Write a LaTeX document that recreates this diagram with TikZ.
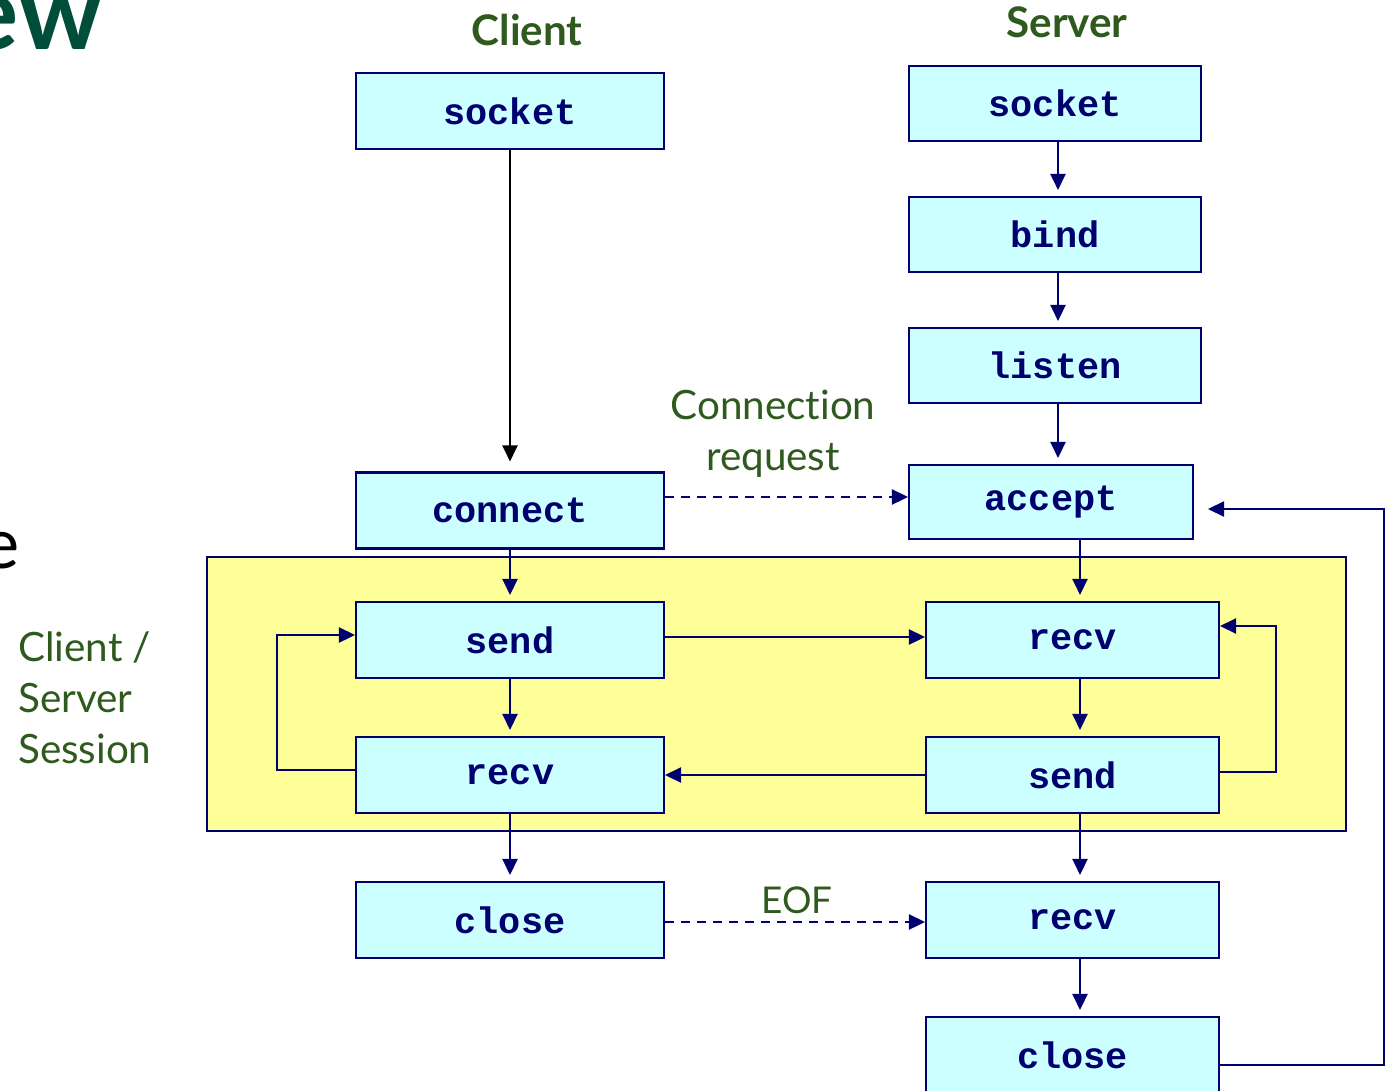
\documentclass[tikz,border=0pt]{standalone}
\usepackage{fontspec}
\setmainfont{Lato}[Ligatures=NoCommon]
\newfontfamily\boxfont{Liberation Mono}
\usetikzlibrary{arrows.meta}
\definecolor{navy}{RGB}{0,0,110}
\definecolor{boxcyan}{RGB}{204,255,255}
\definecolor{sessionyellow}{RGB}{255,255,153}
\definecolor{labelgreen}{RGB}{47,90,30}
\definecolor{titlegreen}{RGB}{0,77,58}

\begin{document}
\begin{tikzpicture}[x=0.02cm, y=-0.02cm,
    call/.style={draw=navy, fill=boxcyan, line width=1.2pt, inner sep=0pt,
      minimum width=6.16cm, minimum height=1.52cm, text=navy,
      font=\boxfont\bfseries\fontsize{21}{24}\selectfont},
    flow/.style={navy, line width=1.4pt, shorten >=0.12cm,
      -{Triangle[length=0.32cm,width=0.3cm]}},
    ask/.style={flow, dash pattern=on 0.18cm off 0.14cm},
    note/.style={text=labelgreen, font=\fontsize{23}{29}\selectfont}]
    \useasboundingbox (0,0) rectangle (1393,1091);

    % slide text cut off at the edges
    \node[anchor=base east, inner sep=0, text=titlegreen,
      font=\bfseries\fontsize{60}{70}\selectfont] (heading) at (103,50) {ew};
    \node[anchor=base east, inner sep=0, font=\fontsize{40}{48}\selectfont] (bullet) at (20,568) {e};

    % session area
    \draw[navy, line width=1.2pt, fill=sessionyellow] (207,557) rectangle (1346,831);

    \node[text=labelgreen, font=\bfseries\fontsize{24}{28}\selectfont] (clienttitle) at (527,30) {Client};
    \node[text=labelgreen, font=\bfseries\fontsize{24}{28}\selectfont] (servertitle) at (1067,22) {Server};

    % client side
    \node[call] (csocket) at (510,111) {socket};
    \node[call] (cconnect) at (510,510.5) {connect};
    \node[call] (csend) at (510,640) {send};
    \node[call] (crecv) at (510,775) {recv};
    \node[call] (cclose) at (510,920) {close};

    % server side
    \node[call, minimum width=5.84cm, minimum height=1.5cm] (ssocket) at (1055,103.5) {socket};
    \node[call, minimum width=5.84cm, minimum height=1.5cm] (sbind) at (1055,234.5) {bind};
    \node[call, minimum width=5.84cm, minimum height=1.5cm] (slisten) at (1055,365.5) {listen};
    \node[call, minimum width=5.68cm, minimum height=1.48cm] (saccept) at (1051,502) {accept};
    \node[call, minimum width=5.86cm] (srecv) at (1072.5,640) {recv};
    \node[call, minimum width=5.86cm] (ssend) at (1072.5,775) {send};
    \node[call, minimum width=5.86cm] (seof) at (1072.5,920) {recv};
    \node[call, minimum width=5.86cm] (sclose) at (1072.5,1055) {close};

    \node[note, align=center] (connreq) at (773,434) {Connection\\request};
    \node[note, align=left, anchor=west] (session) at (12,698) {Client /\\Server\\Session};
    \node[note, font=\fontsize{21}{25}\selectfont] (eof) at (797,900) {EOF};

    \draw[flow, black, line width=1.2pt, shorten >=0.2cm] (csocket) -- (cconnect);
    \draw[flow] ([xshift=0.06cm]ssocket.south) -- ([xshift=0.06cm]sbind.north);
    \draw[flow] ([xshift=0.06cm]sbind.south) -- ([xshift=0.06cm]slisten.north);
    \draw[flow] ([xshift=0.06cm]slisten.south) -- ([xshift=0.06cm]slisten.south |- saccept.north);
    \draw[ask, shorten >=0pt] ([yshift=0.1cm]cconnect.east |- saccept.west) -- ([yshift=0.1cm]saccept.west);

    \draw[flow] (cconnect) -- (csend);
    \draw[flow] ([xshift=0.15cm]srecv.north |- saccept.south) -- ([xshift=0.15cm]srecv.north);
    \draw[flow, shorten >=0pt] ([yshift=0.06cm]csend.east) -- ([yshift=0.06cm]srecv.west);
    \draw[flow] (csend) -- (crecv);
    \draw[flow] ([xshift=0.15cm]srecv.south) -- ([xshift=0.15cm]ssend.north);
    \draw[flow, shorten >=0pt] (ssend.west) -- (crecv.east);
    \draw[flow, shorten >=0pt] ([yshift=0.1cm]crecv.west) -- ++(-78,0) |- ([yshift=0.1cm]csend.west);
    \draw[flow, shorten >=0pt] ([yshift=0.06cm]ssend.east) -- ++(56,0) |- ([yshift=0.28cm]srecv.east);

    \draw[flow] (crecv) -- (cclose);
    \draw[flow] ([xshift=0.15cm]ssend.south) -- ([xshift=0.15cm]seof.north);
    \draw[ask, shorten >=0pt] ([yshift=-0.04cm]cclose.east) -- ([yshift=-0.04cm]seof.west);
    \draw[flow] ([xshift=0.15cm]seof.south) -- ([xshift=0.15cm]sclose.north);
    \draw[flow, shorten >=0.28cm] ([yshift=-0.2cm]sclose.east) -- ++(164,0) |- ([yshift=-0.14cm]saccept.east);
\end{tikzpicture}
\end{document}
